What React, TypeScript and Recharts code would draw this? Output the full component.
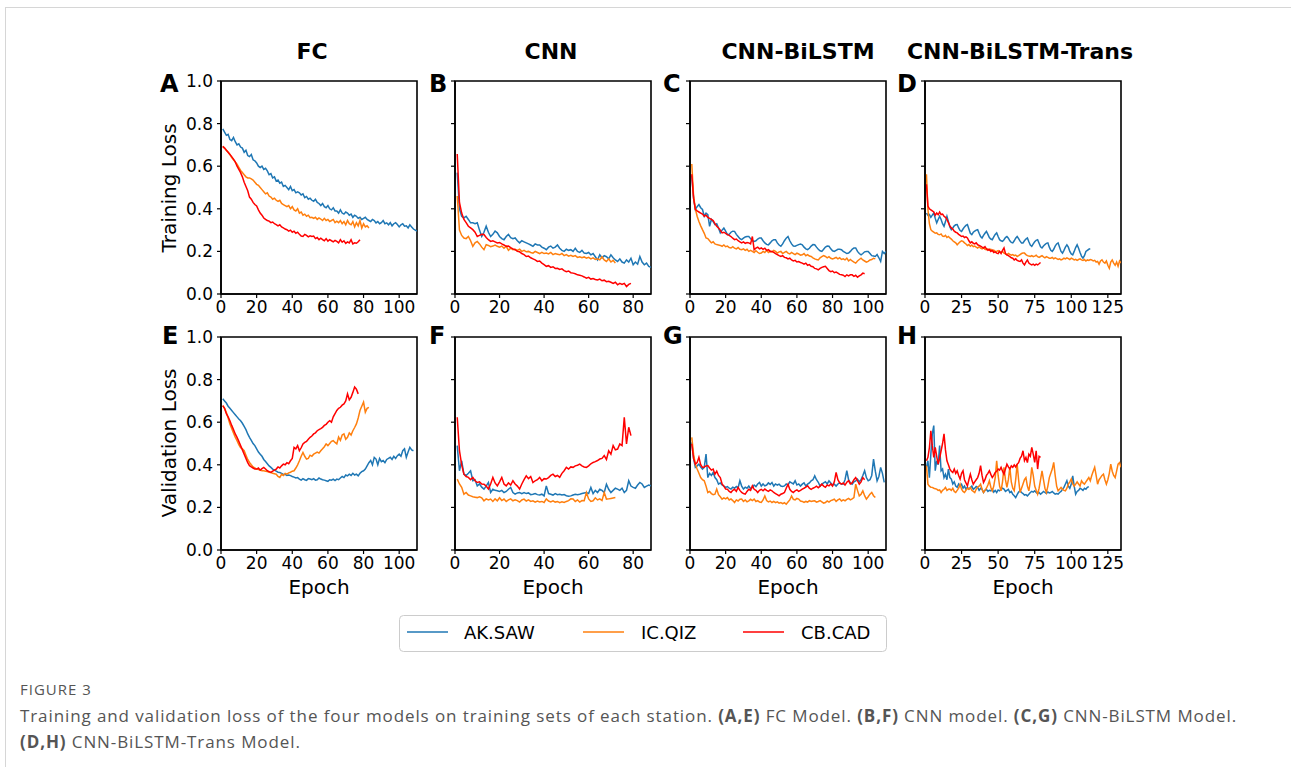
import React from "react";
import { LineChart, Line, XAxis, YAxis, ReferenceArea } from "recharts";

const FONT = "DejaVu Sans";
const STATIONS = ["AK.SAW", "IC.QIZ", "CB.CAD"];
const COLORS = ["#1f77b4", "#ff7f0e", "#ff0000"];
const MODELS = ["FC", "CNN", "CNN-BiLSTM", "CNN-BiLSTM-Trans"];
const TOP_LETTERS = ["A", "B", "C", "D"];
const BOTTOM_LETTERS = ["E", "F", "G", "H"];
const X_TICKS = [
  [0, 20, 40, 60, 80, 100],
  [0, 20, 40, 60, 80],
  [0, 20, 40, 60, 80, 100],
  [0, 25, 50, 75, 100, 125],
];
const X_MAX = [110, 88, 110, 134];
const Y_TICKS = [0, 0.2, 0.4, 0.6, 0.8, 1.0];

// training loss, FC
const fcTrainSaw = [
  0.775, 0.76, 0.745, 0.75, 0.725, 0.72, 0.735, 0.715, 0.7, 0.705,
  0.69, 0.685, 0.665, 0.675, 0.65, 0.645, 0.655, 0.63, 0.625, 0.615,
  0.6, 0.594, 0.6, 0.585, 0.59, 0.578, 0.56, 0.565, 0.545, 0.55,
  0.53, 0.535, 0.52, 0.525, 0.505, 0.51, 0.5, 0.49, 0.505, 0.485,
  0.49, 0.475, 0.48, 0.475, 0.465, 0.47, 0.452, 0.458, 0.445, 0.45,
  0.44, 0.435, 0.445, 0.43, 0.425, 0.415, 0.425, 0.41, 0.405, 0.415,
  0.4, 0.395, 0.405, 0.39, 0.39, 0.38, 0.395, 0.38, 0.375, 0.385,
  0.38, 0.37, 0.375, 0.36, 0.37, 0.365, 0.355, 0.36, 0.35, 0.355,
  0.36, 0.35, 0.345, 0.34, 0.35, 0.345, 0.334, 0.34, 0.33, 0.335,
  0.345, 0.33, 0.334, 0.325, 0.335, 0.32, 0.33, 0.335, 0.326, 0.315,
  0.325, 0.33, 0.318, 0.32, 0.31, 0.325, 0.315, 0.305, 0.3, 0.295,
];
const fcTrainQiz = [
  0.693, 0.685, 0.675, 0.665, 0.655, 0.64, 0.63, 0.62, 0.61, 0.595,
  0.58, 0.57, 0.56, 0.55, 0.545, 0.545, 0.54, 0.535, 0.525, 0.515,
  0.51, 0.5, 0.49, 0.48, 0.47, 0.475, 0.46, 0.455, 0.445, 0.45,
  0.44, 0.435, 0.44, 0.425, 0.42, 0.415, 0.41, 0.415, 0.4, 0.41,
  0.395, 0.39, 0.4, 0.38, 0.385, 0.37, 0.375, 0.365, 0.37, 0.358,
  0.36, 0.355, 0.36, 0.35, 0.357, 0.352, 0.345, 0.355, 0.345, 0.35,
  0.34, 0.345, 0.35, 0.335, 0.342, 0.335, 0.345, 0.33, 0.34, 0.325,
  0.345, 0.33, 0.325, 0.34, 0.315, 0.335, 0.32, 0.345, 0.31, 0.33,
  0.315, 0.32, 0.31,
];
const fcTrainCad = [
  0.693, 0.685, 0.675, 0.665, 0.655, 0.645, 0.633, 0.62, 0.6, 0.585,
  0.57, 0.55, 0.525, 0.505, 0.485, 0.455, 0.445, 0.43, 0.42, 0.413,
  0.395, 0.38, 0.37, 0.357, 0.35, 0.345, 0.342, 0.335, 0.338, 0.33,
  0.326, 0.32, 0.325, 0.315, 0.31, 0.305, 0.302, 0.295, 0.3, 0.29,
  0.295, 0.285, 0.29, 0.28, 0.272, 0.27, 0.28, 0.275, 0.268, 0.273,
  0.27, 0.272, 0.26, 0.265, 0.255, 0.262, 0.255, 0.25, 0.26, 0.248,
  0.255, 0.25, 0.245, 0.252, 0.247, 0.24, 0.255, 0.243, 0.25, 0.238,
  0.245, 0.24, 0.255, 0.235, 0.24, 0.238, 0.245, 0.255,
];

// training loss, CNN
const cnnTrainSaw = [
  0.57, 0.4, 0.365, 0.357, 0.365, 0.35, 0.334, 0.334, 0.33, 0.334,
  0.3, 0.27, 0.29, 0.318, 0.29, 0.27, 0.28, 0.295, 0.287, 0.27,
  0.26, 0.255, 0.27, 0.28, 0.265, 0.26, 0.263, 0.25, 0.24, 0.25,
  0.245, 0.24, 0.235, 0.23, 0.224, 0.235, 0.23, 0.23, 0.22, 0.215,
  0.208, 0.22, 0.225, 0.215, 0.22, 0.23, 0.215, 0.205, 0.2, 0.21,
  0.205, 0.208, 0.2, 0.215, 0.2, 0.195, 0.205, 0.192, 0.19, 0.195,
  0.184, 0.19, 0.175, 0.16, 0.184, 0.17, 0.18, 0.175, 0.165, 0.184,
  0.17, 0.16, 0.153, 0.165, 0.15, 0.145, 0.16, 0.15, 0.168, 0.137,
  0.15, 0.14, 0.176, 0.15, 0.137, 0.145, 0.13, 0.125,
];
const cnnTrainQiz = [
  0.46, 0.3, 0.275, 0.263, 0.26, 0.27, 0.25, 0.224, 0.24, 0.247,
  0.235, 0.22, 0.208, 0.232, 0.228, 0.222, 0.225, 0.23, 0.224, 0.22,
  0.225, 0.215, 0.224, 0.205, 0.215, 0.208, 0.21, 0.205, 0.21, 0.2,
  0.205, 0.198, 0.2, 0.195, 0.192, 0.2, 0.195, 0.19, 0.196, 0.19,
  0.192, 0.188, 0.195, 0.185, 0.19, 0.187, 0.184, 0.19, 0.18, 0.185,
  0.178, 0.182, 0.176, 0.18, 0.172, 0.175, 0.17, 0.174, 0.168, 0.172,
  0.165, 0.17, 0.162, 0.165, 0.16, 0.175, 0.16, 0.153, 0.165, 0.15,
  0.158, 0.145,
];
const cnnTrainCad = [
  0.657, 0.43, 0.38, 0.35, 0.335, 0.318, 0.31, 0.302, 0.29, 0.27,
  0.275, 0.28, 0.279, 0.265, 0.255, 0.247, 0.25, 0.245, 0.24, 0.242,
  0.235, 0.23, 0.224, 0.225, 0.218, 0.212, 0.208, 0.2, 0.198, 0.19,
  0.185, 0.176, 0.178, 0.17, 0.165, 0.16, 0.153, 0.155, 0.145, 0.138,
  0.13, 0.133, 0.125, 0.128, 0.12, 0.121, 0.115, 0.118, 0.11, 0.105,
  0.108, 0.1, 0.098, 0.095, 0.09, 0.088, 0.085, 0.08, 0.074, 0.078,
  0.07, 0.073, 0.068, 0.066, 0.07, 0.062, 0.065, 0.058, 0.06, 0.055,
  0.05, 0.055, 0.043, 0.05, 0.045, 0.05, 0.035, 0.045, 0.05,
];

// training loss, CNN-BiLSTM
const lstmTrainSaw = [
  0.554, 0.45, 0.397, 0.41, 0.42, 0.405, 0.397, 0.365, 0.38, 0.373,
  0.318, 0.35, 0.34, 0.326, 0.33, 0.31, 0.287, 0.3, 0.31, 0.295,
  0.279, 0.28, 0.29, 0.295, 0.294, 0.28, 0.27, 0.26, 0.255, 0.262,
  0.268, 0.27, 0.27, 0.26, 0.25, 0.247, 0.25, 0.258, 0.263, 0.263,
  0.25, 0.24, 0.233, 0.231, 0.24, 0.25, 0.255, 0.255, 0.24, 0.23,
  0.224, 0.235, 0.25, 0.262, 0.27, 0.25, 0.235, 0.225, 0.224, 0.228,
  0.232, 0.235, 0.231, 0.22, 0.212, 0.208, 0.215, 0.225, 0.232, 0.231,
  0.22, 0.21, 0.203, 0.2, 0.21, 0.22, 0.225, 0.224, 0.212, 0.203,
  0.2, 0.205, 0.21, 0.21, 0.208, 0.2, 0.195, 0.19, 0.192, 0.2,
  0.21, 0.216, 0.216, 0.2, 0.19, 0.184, 0.19, 0.198, 0.2, 0.2,
  0.19, 0.18, 0.178, 0.176, 0.185, 0.17, 0.153, 0.2, 0.19, 0.2,
];
const lstmTrainQiz = [
  0.61, 0.46, 0.4, 0.365, 0.34, 0.32, 0.302, 0.285, 0.263, 0.26,
  0.25, 0.24, 0.245, 0.235, 0.232, 0.23, 0.228, 0.224, 0.23, 0.222,
  0.225, 0.218, 0.216, 0.222, 0.215, 0.212, 0.218, 0.21, 0.208, 0.212,
  0.205, 0.21, 0.2, 0.205, 0.2, 0.195, 0.203, 0.196, 0.19, 0.192,
  0.2, 0.195, 0.205, 0.195, 0.2, 0.198, 0.205, 0.2, 0.192, 0.198,
  0.2, 0.19, 0.195, 0.2, 0.192, 0.188, 0.195, 0.19, 0.185, 0.192,
  0.188, 0.182, 0.184, 0.19, 0.18, 0.185, 0.178, 0.176, 0.17, 0.165,
  0.162, 0.16, 0.17, 0.175, 0.18, 0.176, 0.17, 0.175, 0.168, 0.165,
  0.168, 0.172, 0.165, 0.17, 0.162, 0.165, 0.16, 0.168, 0.155, 0.162,
  0.155, 0.15, 0.145, 0.155, 0.162, 0.168, 0.16, 0.155, 0.15, 0.153,
  0.16, 0.162, 0.168, 0.165,
];
const lstmTrainCad = [
  0.562, 0.45, 0.397, 0.39, 0.385, 0.38, 0.375, 0.365, 0.37, 0.36,
  0.355, 0.35, 0.345, 0.33, 0.318, 0.31, 0.3, 0.287, 0.29, 0.285,
  0.279, 0.275, 0.27, 0.262, 0.255, 0.258, 0.25, 0.245, 0.24, 0.245,
  0.238, 0.242, 0.24, 0.235, 0.27, 0.208, 0.215, 0.22, 0.212, 0.216,
  0.21, 0.215, 0.205, 0.208, 0.2, 0.2, 0.195, 0.19, 0.185, 0.18,
  0.176, 0.18, 0.172, 0.17, 0.165, 0.168, 0.16, 0.155, 0.158, 0.15,
  0.152, 0.148, 0.145, 0.14, 0.145, 0.135, 0.138, 0.13, 0.128, 0.12,
  0.118, 0.113, 0.12, 0.125, 0.128, 0.13, 0.12, 0.11, 0.105, 0.108,
  0.1, 0.103, 0.098, 0.092, 0.09, 0.088, 0.082, 0.09, 0.085, 0.09,
  0.09, 0.083, 0.088, 0.079, 0.085, 0.09, 0.098, 0.095,
];

// training loss, CNN-BiLSTM-Trans
const transTrainSaw = [
  0.38, 0.37, 0.373, 0.36, 0.37, 0.38, 0.355, 0.334, 0.35, 0.365,
  0.35, 0.33, 0.318, 0.34, 0.365, 0.34, 0.315, 0.302, 0.31, 0.32,
  0.325, 0.326, 0.31, 0.298, 0.294, 0.305, 0.315, 0.322, 0.326, 0.305,
  0.285, 0.279, 0.29, 0.295, 0.3, 0.302, 0.285, 0.27, 0.263, 0.275,
  0.285, 0.294, 0.28, 0.265, 0.258, 0.255, 0.268, 0.28, 0.287, 0.27,
  0.255, 0.25, 0.247, 0.255, 0.265, 0.27, 0.262, 0.25, 0.242, 0.24,
  0.25, 0.262, 0.27, 0.26, 0.248, 0.24, 0.24, 0.25, 0.258, 0.263,
  0.245, 0.23, 0.224, 0.235, 0.245, 0.252, 0.255, 0.238, 0.222, 0.216,
  0.225, 0.232, 0.238, 0.24, 0.22, 0.205, 0.2, 0.21, 0.225, 0.235,
  0.24, 0.22, 0.2, 0.192, 0.205, 0.22, 0.231, 0.22, 0.2, 0.188,
  0.184, 0.2, 0.218, 0.231, 0.215, 0.195, 0.178, 0.168, 0.18, 0.2,
  0.205, 0.21, 0.213,
];
const transTrainQiz = [
  0.562, 0.397, 0.33, 0.302, 0.295, 0.29, 0.285, 0.287, 0.28, 0.278,
  0.282, 0.272, 0.27, 0.275, 0.265, 0.27, 0.263, 0.258, 0.25, 0.245,
  0.24, 0.231, 0.238, 0.245, 0.25, 0.247, 0.24, 0.235, 0.228, 0.232,
  0.224, 0.23, 0.222, 0.225, 0.22, 0.216, 0.222, 0.215, 0.212, 0.218,
  0.21, 0.208, 0.212, 0.205, 0.21, 0.203, 0.206, 0.2, 0.2, 0.204,
  0.198, 0.195, 0.2, 0.192, 0.188, 0.184, 0.19, 0.186, 0.182, 0.185,
  0.18, 0.183, 0.176, 0.18, 0.185, 0.19, 0.192, 0.192, 0.185, 0.18,
  0.178, 0.176, 0.18, 0.175, 0.178, 0.182, 0.175, 0.172, 0.176, 0.18,
  0.174, 0.17, 0.175, 0.172, 0.168, 0.168, 0.172, 0.165, 0.17, 0.166,
  0.162, 0.165, 0.16, 0.163, 0.168, 0.165, 0.17, 0.166, 0.162, 0.168,
  0.165, 0.16, 0.163, 0.158, 0.162, 0.165, 0.16, 0.158, 0.162, 0.155,
  0.16, 0.158, 0.162, 0.16, 0.155, 0.158, 0.15, 0.153, 0.14, 0.155,
  0.16, 0.15, 0.145, 0.155, 0.135, 0.121, 0.15, 0.16, 0.145, 0.135,
  0.15, 0.13, 0.155, 0.145,
];
const transTrainCad = [
  0.515, 0.413, 0.4, 0.395, 0.39, 0.385, 0.37, 0.38, 0.372, 0.385,
  0.373, 0.375, 0.365, 0.36, 0.35, 0.335, 0.32, 0.31, 0.305, 0.295,
  0.29, 0.287, 0.28, 0.275, 0.27, 0.272, 0.265, 0.268, 0.263, 0.25,
  0.24, 0.245, 0.238, 0.235, 0.24, 0.231, 0.228, 0.225, 0.22, 0.216,
  0.222, 0.212, 0.205, 0.21, 0.2, 0.205, 0.195, 0.198, 0.192, 0.19,
  0.2, 0.19, 0.205, 0.216, 0.19, 0.184, 0.18, 0.175, 0.17, 0.168,
  0.16, 0.165, 0.158, 0.155, 0.153, 0.16, 0.145, 0.137, 0.15, 0.16,
  0.145, 0.14, 0.137, 0.14, 0.135, 0.14, 0.137, 0.142, 0.148,
];

// validation loss, FC
const fcValSaw = [
  0.71, 0.7, 0.69, 0.675, 0.665, 0.655, 0.645, 0.635, 0.625, 0.615,
  0.607, 0.595, 0.58, 0.565, 0.545, 0.529, 0.515, 0.5, 0.49, 0.475,
  0.46, 0.45, 0.44, 0.425, 0.415, 0.405, 0.395, 0.388, 0.38, 0.375,
  0.37, 0.365, 0.364, 0.36, 0.355, 0.355, 0.35, 0.352, 0.349, 0.345,
  0.342, 0.338, 0.34, 0.333, 0.328, 0.335, 0.33, 0.327, 0.335, 0.333,
  0.33, 0.335, 0.328, 0.33, 0.338, 0.333, 0.33, 0.328, 0.325, 0.322,
  0.33, 0.328, 0.333, 0.326, 0.333, 0.33, 0.338, 0.345, 0.34, 0.352,
  0.348, 0.356, 0.35, 0.36, 0.352, 0.356, 0.348, 0.36, 0.368, 0.372,
  0.38, 0.395, 0.41, 0.42, 0.4, 0.435, 0.427, 0.4, 0.43, 0.415,
  0.42, 0.41, 0.425, 0.43, 0.435, 0.425, 0.44, 0.43, 0.443, 0.45,
  0.44, 0.466, 0.475, 0.435, 0.46, 0.482, 0.47, 0.466,
];
const fcValQiz = [
  0.678, 0.665, 0.645, 0.62, 0.592, 0.57, 0.55, 0.53, 0.513, 0.495,
  0.48, 0.475, 0.466, 0.445, 0.425, 0.411, 0.4, 0.39, 0.385, 0.38,
  0.378, 0.375, 0.372, 0.372, 0.37, 0.368, 0.365, 0.364, 0.36, 0.358,
  0.356, 0.345, 0.34, 0.355, 0.35, 0.36, 0.356, 0.362, 0.365, 0.37,
  0.372, 0.385, 0.4, 0.419, 0.44, 0.458, 0.44, 0.427, 0.43, 0.445,
  0.44, 0.45, 0.455, 0.46, 0.455, 0.466, 0.475, 0.485, 0.498, 0.49,
  0.5, 0.51, 0.513, 0.505, 0.498, 0.53, 0.515, 0.54, 0.545, 0.52,
  0.529, 0.55, 0.54, 0.56, 0.575, 0.592, 0.62, 0.655, 0.675, 0.694,
  0.647, 0.665, 0.67,
];
const fcValCad = [
  0.678, 0.665, 0.64, 0.625, 0.607, 0.585, 0.565, 0.545, 0.529, 0.51,
  0.49, 0.47, 0.45, 0.43, 0.41, 0.396, 0.39, 0.385, 0.38, 0.38,
  0.385, 0.375, 0.382, 0.388, 0.38, 0.372, 0.368, 0.364, 0.37, 0.375,
  0.38, 0.39, 0.385, 0.395, 0.403, 0.4, 0.41, 0.405, 0.419, 0.43,
  0.482, 0.475, 0.49, 0.466, 0.48, 0.498, 0.505, 0.51, 0.52, 0.529,
  0.535, 0.545, 0.55, 0.56, 0.565, 0.57, 0.576, 0.585, 0.59, 0.6,
  0.607, 0.6, 0.625, 0.64, 0.655, 0.665, 0.67, 0.68, 0.686, 0.7,
  0.733, 0.705, 0.717, 0.74, 0.765, 0.755, 0.733,
];

// validation loss, CNN
const cnnValSaw = [
  0.49, 0.372, 0.419, 0.356, 0.35, 0.36, 0.372, 0.325, 0.33, 0.301,
  0.31, 0.295, 0.286, 0.3, 0.317, 0.27, 0.285, 0.28, 0.278, 0.275,
  0.28, 0.27, 0.275, 0.285, 0.294, 0.27, 0.262, 0.268, 0.27, 0.265,
  0.27, 0.265, 0.268, 0.26, 0.262, 0.265, 0.26, 0.258, 0.262, 0.254,
  0.301, 0.265, 0.262, 0.258, 0.265, 0.26, 0.262, 0.258, 0.26, 0.255,
  0.252, 0.254, 0.258, 0.262, 0.26, 0.262, 0.265, 0.268, 0.27, 0.265,
  0.294, 0.265, 0.28, 0.27, 0.285, 0.28, 0.27, 0.309, 0.285, 0.27,
  0.28, 0.29, 0.286, 0.28, 0.29, 0.27, 0.28, 0.325, 0.3, 0.294,
  0.29, 0.305, 0.317, 0.31, 0.294, 0.3, 0.305, 0.301,
];
const cnnValQiz = [
  0.333, 0.31, 0.294, 0.262, 0.27, 0.258, 0.254, 0.25, 0.248, 0.246,
  0.25, 0.245, 0.231, 0.24, 0.235, 0.239, 0.228, 0.24, 0.231, 0.245,
  0.232, 0.239, 0.228, 0.235, 0.24, 0.231, 0.236, 0.232, 0.225, 0.235,
  0.239, 0.23, 0.235, 0.228, 0.231, 0.225, 0.23, 0.226, 0.228, 0.223,
  0.24, 0.23, 0.226, 0.231, 0.225, 0.228, 0.222, 0.226, 0.223, 0.228,
  0.232, 0.24, 0.239, 0.228, 0.235, 0.225, 0.232, 0.231, 0.27, 0.24,
  0.228, 0.231, 0.245, 0.235, 0.24, 0.232, 0.27, 0.239, 0.24, 0.242,
  0.244, 0.246,
];
const cnnValCad = [
  0.623, 0.466, 0.4, 0.356, 0.345, 0.341, 0.33, 0.341, 0.325, 0.317,
  0.32, 0.31, 0.309, 0.3, 0.286, 0.31, 0.341, 0.315, 0.301, 0.32,
  0.341, 0.31, 0.301, 0.315, 0.305, 0.325, 0.31, 0.3, 0.286, 0.31,
  0.33, 0.348, 0.335, 0.345, 0.317, 0.325, 0.33, 0.341, 0.325, 0.335,
  0.333, 0.34, 0.35, 0.356, 0.345, 0.35, 0.341, 0.36, 0.372, 0.388,
  0.38, 0.39, 0.388, 0.395, 0.398, 0.403, 0.395, 0.39, 0.388, 0.395,
  0.405, 0.411, 0.415, 0.42, 0.427, 0.43, 0.443, 0.425, 0.466, 0.45,
  0.49, 0.47, 0.474, 0.498, 0.49, 0.623, 0.498, 0.576, 0.537,
];

// validation loss, CNN-BiLSTM
const lstmValSaw = [
  0.505, 0.43, 0.388, 0.395, 0.403, 0.39, 0.38, 0.388, 0.45, 0.34,
  0.36, 0.35, 0.364, 0.34, 0.33, 0.309, 0.315, 0.305, 0.3, 0.294,
  0.298, 0.29, 0.286, 0.295, 0.29, 0.298, 0.292, 0.325, 0.3, 0.286,
  0.295, 0.29, 0.3, 0.288, 0.294, 0.305, 0.298, 0.31, 0.317, 0.3,
  0.31, 0.301, 0.305, 0.315, 0.308, 0.317, 0.3, 0.31, 0.305, 0.309,
  0.3, 0.298, 0.301, 0.31, 0.305, 0.32, 0.315, 0.31, 0.325, 0.305,
  0.31, 0.3, 0.309, 0.315, 0.3, 0.309, 0.315, 0.325, 0.33, 0.348,
  0.33, 0.318, 0.3, 0.309, 0.315, 0.32, 0.31, 0.325, 0.315, 0.305,
  0.309, 0.3, 0.31, 0.315, 0.309, 0.31, 0.33, 0.372, 0.33, 0.315,
  0.309, 0.32, 0.325, 0.333, 0.32, 0.33, 0.35, 0.372, 0.34, 0.325,
  0.33, 0.35, 0.427, 0.37, 0.325, 0.345, 0.388, 0.36, 0.317,
];
const lstmValQiz = [
  0.529, 0.45, 0.403, 0.38, 0.36, 0.34, 0.33, 0.325, 0.3, 0.27,
  0.275, 0.265, 0.26, 0.262, 0.286, 0.26, 0.25, 0.239, 0.245, 0.24,
  0.246, 0.235, 0.24, 0.232, 0.223, 0.235, 0.23, 0.238, 0.239, 0.228,
  0.235, 0.226, 0.231, 0.238, 0.232, 0.239, 0.228, 0.232, 0.225, 0.223,
  0.235, 0.254, 0.232, 0.226, 0.23, 0.223, 0.228, 0.222, 0.226, 0.22,
  0.223, 0.218, 0.222, 0.215, 0.225, 0.235, 0.254, 0.238, 0.235, 0.242,
  0.239, 0.23, 0.228, 0.223, 0.228, 0.225, 0.232, 0.228, 0.23, 0.231,
  0.225, 0.228, 0.232, 0.226, 0.22, 0.223, 0.23, 0.225, 0.232, 0.235,
  0.239, 0.228, 0.235, 0.24, 0.23, 0.235, 0.231, 0.238, 0.242, 0.235,
  0.24, 0.246, 0.309, 0.28, 0.254, 0.262, 0.278, 0.255, 0.239, 0.25,
  0.262, 0.27, 0.255, 0.246,
];
const lstmValCad = [
  0.498, 0.43, 0.403, 0.41, 0.435, 0.4, 0.388, 0.39, 0.395, 0.396,
  0.385, 0.375, 0.38, 0.356, 0.37, 0.35, 0.34, 0.31, 0.3, 0.286,
  0.285, 0.275, 0.27, 0.28, 0.285, 0.275, 0.294, 0.28, 0.27, 0.265,
  0.262, 0.275, 0.285, 0.28, 0.301, 0.285, 0.28, 0.27, 0.28, 0.285,
  0.278, 0.286, 0.28, 0.275, 0.282, 0.278, 0.27, 0.265, 0.26, 0.254,
  0.262, 0.265, 0.27, 0.29, 0.309, 0.285, 0.275, 0.27, 0.278, 0.282,
  0.275, 0.28, 0.286, 0.29, 0.295, 0.301, 0.29, 0.285, 0.29, 0.294,
  0.3, 0.292, 0.3, 0.309, 0.3, 0.295, 0.305, 0.301, 0.31, 0.3,
  0.32, 0.364, 0.33, 0.315, 0.309, 0.315, 0.305, 0.318, 0.325, 0.31,
  0.315, 0.33, 0.34, 0.325, 0.309, 0.32, 0.34, 0.33,
];

// validation loss, CNN-BiLSTM-Trans
const transValSaw = [
  0.388, 0.419, 0.34, 0.45, 0.545, 0.584, 0.372, 0.419, 0.4, 0.49,
  0.372, 0.38, 0.34, 0.356, 0.33, 0.38, 0.34, 0.333, 0.31, 0.32,
  0.3, 0.294, 0.31, 0.3, 0.309, 0.29, 0.3, 0.285, 0.295, 0.286,
  0.292, 0.3, 0.285, 0.29, 0.298, 0.294, 0.28, 0.29, 0.285, 0.27,
  0.28, 0.285, 0.275, 0.28, 0.278, 0.285, 0.272, 0.28, 0.27, 0.282,
  0.278, 0.285, 0.29, 0.286, 0.275, 0.28, 0.285, 0.27, 0.275, 0.262,
  0.255, 0.246, 0.26, 0.272, 0.278, 0.27, 0.265, 0.258, 0.26, 0.254,
  0.262, 0.27, 0.275, 0.272, 0.278, 0.27, 0.265, 0.27, 0.262, 0.268,
  0.275, 0.27, 0.265, 0.272, 0.268, 0.27, 0.275, 0.268, 0.262, 0.265,
  0.262, 0.27, 0.275, 0.285, 0.294, 0.31, 0.325, 0.3, 0.29, 0.31,
  0.348, 0.3, 0.262, 0.275, 0.28, 0.29, 0.286, 0.28, 0.29, 0.285,
  0.294, 0.298,
];
const transValQiz = [
  0.396, 0.309, 0.3, 0.295, 0.294, 0.29, 0.288, 0.286, 0.28, 0.282,
  0.27, 0.28, 0.285, 0.294, 0.28, 0.285, 0.286, 0.28, 0.29, 0.275,
  0.27, 0.28, 0.29, 0.309, 0.285, 0.275, 0.27, 0.28, 0.29, 0.285,
  0.294, 0.28, 0.275, 0.27, 0.285, 0.295, 0.3, 0.309, 0.285, 0.27,
  0.28, 0.29, 0.305, 0.325, 0.295, 0.278, 0.3, 0.34, 0.419, 0.35,
  0.3, 0.278, 0.32, 0.388, 0.33, 0.294, 0.33, 0.388, 0.32, 0.29,
  0.278, 0.33, 0.403, 0.33, 0.27, 0.29, 0.31, 0.33, 0.34, 0.3,
  0.278, 0.32, 0.388, 0.35, 0.3, 0.28, 0.262, 0.29, 0.33, 0.372,
  0.33, 0.29, 0.27, 0.3, 0.34, 0.36, 0.38, 0.411, 0.35, 0.3,
  0.278, 0.285, 0.294, 0.285, 0.28, 0.278, 0.29, 0.31, 0.32, 0.333,
  0.31, 0.3, 0.309, 0.32, 0.31, 0.3, 0.325, 0.315, 0.309, 0.32,
  0.33, 0.34, 0.325, 0.35, 0.37, 0.388, 0.35, 0.309, 0.33, 0.34,
  0.35, 0.356, 0.33, 0.309, 0.33, 0.36, 0.403, 0.37, 0.35, 0.34,
  0.37, 0.403, 0.41, 0.388,
];
const transValCad = [
  0.419, 0.435, 0.48, 0.56, 0.49, 0.435, 0.482, 0.44, 0.403, 0.43,
  0.466, 0.5, 0.545, 0.47, 0.419, 0.4, 0.38, 0.37, 0.364, 0.38,
  0.36, 0.372, 0.35, 0.333, 0.36, 0.372, 0.33, 0.315, 0.301, 0.33,
  0.356, 0.33, 0.309, 0.32, 0.33, 0.34, 0.36, 0.396, 0.35, 0.317,
  0.33, 0.35, 0.36, 0.372, 0.355, 0.34, 0.35, 0.364, 0.37, 0.38,
  0.375, 0.388, 0.37, 0.356, 0.38, 0.403, 0.39, 0.38, 0.395, 0.388,
  0.4, 0.39, 0.403, 0.41, 0.43, 0.44, 0.466, 0.42, 0.435, 0.41,
  0.45, 0.44, 0.482, 0.45, 0.411, 0.466, 0.38, 0.44, 0.435,
];

const TRAIN = [
  [fcTrainSaw, fcTrainQiz, fcTrainCad],
  [cnnTrainSaw, cnnTrainQiz, cnnTrainCad],
  [lstmTrainSaw, lstmTrainQiz, lstmTrainCad],
  [transTrainSaw, transTrainQiz, transTrainCad],
];
const VAL = [
  [fcValSaw, fcValQiz, fcValCad],
  [cnnValSaw, cnnValQiz, cnnValCad],
  [lstmValSaw, lstmValQiz, lstmValCad],
  [transValSaw, transValQiz, transValCad],
];

// layout (page px)
const COL_LEFT = [221, 455, 690, 925];
const ROW_TOP = [81, 337];
const PLOT_W = 196;
const PLOT_H = 213;
const Y_AXIS_W = 60;
const X_AXIS_H = 30;
const PAD_TOP = 14;
const PAD_RIGHT = 8;

const toPoints = (vals: number[]) => vals.map((y, i) => ({ x: i + 1, y }));
const tickStyle = { fontSize: 17, fill: "#000", fontFamily: FONT };

function Panel({ series, col, row }: { series: number[][]; col: number; row: number }) {
  const showY = col === 0;
  return (
    <div style={{ position: "absolute", left: COL_LEFT[col] - Y_AXIS_W, top: ROW_TOP[row] - PAD_TOP }}>
      <LineChart
        width={Y_AXIS_W + PLOT_W + PAD_RIGHT}
        height={PAD_TOP + PLOT_H + X_AXIS_H}
        margin={{ top: PAD_TOP, right: PAD_RIGHT, left: 0, bottom: 0 }}
      >
        <XAxis
          type="number"
          dataKey="x"
          domain={[0, X_MAX[col]]}
          ticks={X_TICKS[col]}
          interval={0}
          allowDataOverflow
          height={X_AXIS_H}
          tickSize={4}
          tickMargin={3}
          tick={tickStyle}
          axisLine={{ stroke: "#000", strokeWidth: 1.6 }}
          tickLine={{ stroke: "#000", strokeWidth: 1.2 }}
        />
        <YAxis
          type="number"
          domain={[0, 1]}
          ticks={Y_TICKS}
          interval={0}
          allowDataOverflow
          width={Y_AXIS_W}
          tickSize={4}
          tickMargin={4}
          tick={tickStyle}
          tickFormatter={(v: number) => (showY ? v.toFixed(1) : "")}
          axisLine={{ stroke: "#000", strokeWidth: 1.6 }}
          tickLine={{ stroke: "#000", strokeWidth: 1.2 }}
        />
        {series.map((s, i) => (
          <Line
            key={STATIONS[i]}
            data={toPoints(s)}
            dataKey="y"
            type="linear"
            stroke={COLORS[i]}
            strokeWidth={1.5}
            dot={false}
            activeDot={false}
            isAnimationActive={false}
          />
        ))}
        <ReferenceArea x1={0} x2={X_MAX[col]} y1={0} y2={1} fill="none" stroke="#000" strokeWidth={1.6} />
      </LineChart>
    </div>
  );
}

const TITLE_X = [312, 551, 798, 1020];
const LETTER_X = [160, 429, 663, 897];
const LEGEND_LINE_X = [407, 583, 743];
const LEGEND_TEXT_X = [464, 641, 801];

export default function App() {
  return (
    <div style={{ position: "absolute", left: 0, top: 0, width: 1291, height: 767, background: "#fff", overflow: "hidden" }}>
      {TRAIN.map((s, c) => (
        <Panel key={"t" + c} series={s} col={c} row={0} />
      ))}
      {VAL.map((s, c) => (
        <Panel key={"v" + c} series={s} col={c} row={1} />
      ))}
      <svg width={1291} height={767} style={{ position: "absolute", left: 0, top: 0, pointerEvents: "none" }}>
        <line x1={5} y1={7.5} x2={1291} y2={7.5} stroke="#d6d6d6" strokeWidth={1} />
        <line x1={5.5} y1={7} x2={5.5} y2={767} stroke="#d6d6d6" strokeWidth={1} />
        {MODELS.map((m, c) => (
          <text key={m} x={TITLE_X[c]} y={59} textAnchor="middle" fontFamily={FONT} fontWeight="bold" fontSize={22}>
            {m}
          </text>
        ))}
        {TOP_LETTERS.map((l, c) => (
          <text key={l} x={LETTER_X[c]} y={92} fontFamily={FONT} fontWeight="bold" fontSize={24}>
            {l}
          </text>
        ))}
        {BOTTOM_LETTERS.map((l, c) => (
          <text key={l} x={LETTER_X[c] + (c === 0 ? 2 : 0)} y={344} fontFamily={FONT} fontWeight="bold" fontSize={24}>
            {l}
          </text>
        ))}
        <text transform="translate(176,188) rotate(-90)" textAnchor="middle" fontFamily={FONT} fontSize={20}>
          Training Loss
        </text>
        <text transform="translate(176,443) rotate(-90)" textAnchor="middle" fontFamily={FONT} fontSize={20}>
          Validation Loss
        </text>
        {COL_LEFT.map((x, c) => (
          <text key={"ep" + c} x={x + PLOT_W / 2} y={594} textAnchor="middle" fontFamily={FONT} fontSize={20}>
            Epoch
          </text>
        ))}
        <rect x={399.5} y={615.5} width={487} height={36} rx={4} fill="#fff" stroke="#cccccc" strokeWidth={1} />
        {STATIONS.map((s, i) => (
          <g key={s}>
            <line x1={LEGEND_LINE_X[i]} y1={632} x2={LEGEND_LINE_X[i] + 41} y2={632} stroke={COLORS[i]} strokeWidth={1.5} />
            <text x={LEGEND_TEXT_X[i]} y={639} fontFamily={FONT} fontSize={18}>
              {s}
            </text>
          </g>
        ))}
      </svg>
      <div style={{ position: "absolute", left: 20, top: 679, fontFamily: "Open Sans", fontSize: 15, color: "#555", letterSpacing: 1 }}>
        FIGURE 3
      </div>
      <div
        style={{
          position: "absolute",
          left: 20,
          top: 703,
          width: 1265,
          fontFamily: "Open Sans",
          fontSize: 17,
          lineHeight: "26px",
          letterSpacing: 0.9,
          color: "#555",
          whiteSpace: "nowrap",
        }}
      >
        Training and validation loss of the four models on training sets of each station. <b>(A,E)</b> FC Model. <b>(B,F)</b> CNN
        model. <b>(C,G)</b> CNN-BiLSTM Model.
        <br />
        <b>(D,H)</b> CNN-BiLSTM-Trans Model.
      </div>
    </div>
  );
}
